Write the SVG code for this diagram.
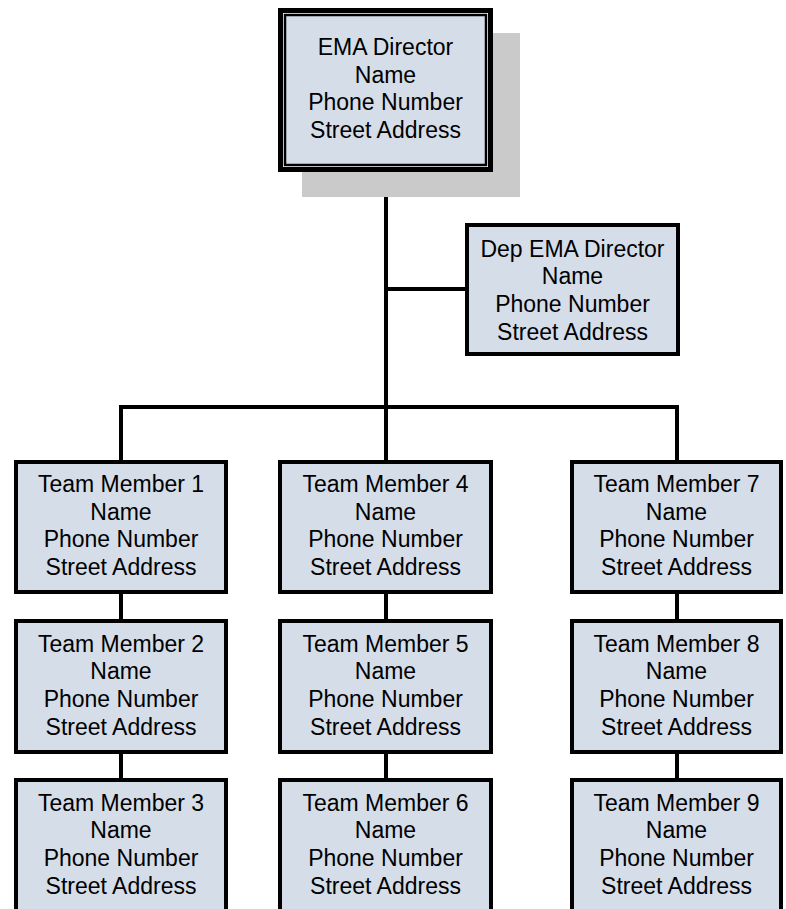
<svg xmlns="http://www.w3.org/2000/svg" width="786" height="909" viewBox="0 0 786 909">
<style>
.box{fill:#d5dde9;stroke:#000;stroke-width:4}
.t{font-family:"Liberation Sans",Arial,sans-serif;font-size:23px;fill:#000;text-anchor:middle}
.c{stroke:#000;stroke-width:4;fill:none}
</style>
<rect width="786" height="909" fill="#fff"/>
<g id="connectors">
<line class="c" x1="386" y1="170" x2="386" y2="409"/>
<line class="c" x1="386" y1="289" x2="467" y2="289"/>
<polyline class="c" points="121,460 121,407 677,407 677,460"/>
<line class="c" x1="386" y1="407" x2="386" y2="460"/>
<line class="c" x1="121" y1="594" x2="121" y2="619"/>
<line class="c" x1="386" y1="594" x2="386" y2="619"/>
<line class="c" x1="677" y1="594" x2="677" y2="619"/>
<line class="c" x1="121" y1="754" x2="121" y2="778"/>
<line class="c" x1="386" y1="754" x2="386" y2="778"/>
<line class="c" x1="677" y1="754" x2="677" y2="778"/>
</g>
<g id="director">
<rect x="302" y="33" width="218" height="164" fill="#cacaca"/>
<rect x="280.5" y="10.5" width="210" height="159" fill="#fff" stroke="#000" stroke-width="5"/>
<rect x="285" y="15" width="201" height="150" fill="#d5dde9" stroke="#000" stroke-width="2.5"/>
<text class="t" x="385.5" y="55">EMA Director</text>
<text class="t" x="385.5" y="82.5">Name</text>
<text class="t" x="385.5" y="110">Phone Number</text>
<text class="t" x="385.5" y="138">Street Address</text>
</g>
<g id="deputy">
<rect class="box" x="467" y="225" width="211" height="129"/>
<text class="t" x="572.5" y="256.5">Dep EMA Director</text>
<text class="t" x="572.5" y="284">Name</text>
<text class="t" x="572.5" y="311.5">Phone Number</text>
<text class="t" x="572.5" y="339.5">Street Address</text>
</g>
<g id="tm1">
<rect class="box" x="16" y="462" width="210" height="130"/>
<text class="t" x="121" y="492">Team Member 1</text>
<text class="t" x="121" y="519.5">Name</text>
<text class="t" x="121" y="547">Phone Number</text>
<text class="t" x="121" y="575">Street Address</text>
</g>
<g id="tm2">
<rect class="box" x="16" y="621" width="210" height="131"/>
<text class="t" x="121" y="651.5">Team Member 2</text>
<text class="t" x="121" y="679">Name</text>
<text class="t" x="121" y="707">Phone Number</text>
<text class="t" x="121" y="735">Street Address</text>
</g>
<g id="tm3">
<rect class="box" x="16" y="780" width="210" height="135"/>
<text class="t" x="121" y="810.5">Team Member 3</text>
<text class="t" x="121" y="838">Name</text>
<text class="t" x="121" y="866">Phone Number</text>
<text class="t" x="121" y="894">Street Address</text>
</g>
<g id="tm4">
<rect class="box" x="280" y="462" width="211" height="130"/>
<text class="t" x="385.5" y="492">Team Member 4</text>
<text class="t" x="385.5" y="519.5">Name</text>
<text class="t" x="385.5" y="547">Phone Number</text>
<text class="t" x="385.5" y="575">Street Address</text>
</g>
<g id="tm5">
<rect class="box" x="280" y="621" width="211" height="131"/>
<text class="t" x="385.5" y="651.5">Team Member 5</text>
<text class="t" x="385.5" y="679">Name</text>
<text class="t" x="385.5" y="707">Phone Number</text>
<text class="t" x="385.5" y="735">Street Address</text>
</g>
<g id="tm6">
<rect class="box" x="280" y="780" width="211" height="135"/>
<text class="t" x="385.5" y="810.5">Team Member 6</text>
<text class="t" x="385.5" y="838">Name</text>
<text class="t" x="385.5" y="866">Phone Number</text>
<text class="t" x="385.5" y="894">Street Address</text>
</g>
<g id="tm7">
<rect class="box" x="572" y="462" width="209" height="130"/>
<text class="t" x="676.5" y="492">Team Member 7</text>
<text class="t" x="676.5" y="519.5">Name</text>
<text class="t" x="676.5" y="547">Phone Number</text>
<text class="t" x="676.5" y="575">Street Address</text>
</g>
<g id="tm8">
<rect class="box" x="572" y="621" width="209" height="131"/>
<text class="t" x="676.5" y="651.5">Team Member 8</text>
<text class="t" x="676.5" y="679">Name</text>
<text class="t" x="676.5" y="707">Phone Number</text>
<text class="t" x="676.5" y="735">Street Address</text>
</g>
<g id="tm9">
<rect class="box" x="572" y="780" width="209" height="135"/>
<text class="t" x="676.5" y="810.5">Team Member 9</text>
<text class="t" x="676.5" y="838">Name</text>
<text class="t" x="676.5" y="866">Phone Number</text>
<text class="t" x="676.5" y="894">Street Address</text>
</g>
</svg>
